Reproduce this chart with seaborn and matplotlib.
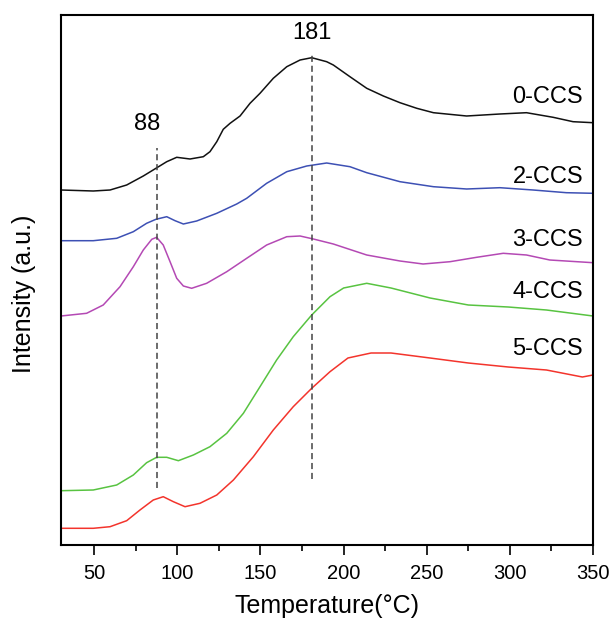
import numpy as np
import pandas as pd
import seaborn as sns
import matplotlib
matplotlib.use("Agg")
import matplotlib.pyplot as plt
from matplotlib.ticker import MultipleLocator

# ---- data (arbitrary intensity units) ----
t_0ccs = [30, 49.4, 59.5, 69.5, 79.5, 87.1, 93.6, 99.6, 107.6, 115.6, 119.6, 123.7, 127.6,
          131.7, 137.7, 143.7, 149.7, 157.7, 165.8, 173.8, 180.8, 189.8, 193.8, 203.8, 213.9,
          223.9, 233.9, 244, 254, 274, 294, 310, 326, 338, 350]
i_0ccs = [355, 354, 355, 360, 369, 376.7, 383.3, 387.7, 386, 388.3, 393.3, 403.3, 415.7,
          421.7, 429, 441.7, 451.7, 466.7, 478.3, 485, 487.3, 483.3, 480, 468.3, 456.7,
          449, 442.3, 436.7, 432.3, 429, 431, 432.3, 427.7, 423.3, 422.3]

t_2ccs = [30, 49.4, 63.5, 73.5, 81.5, 87.1, 93.6, 98.6, 103.6, 111.6, 123.7, 135.7, 141.7,
          153.7, 165.8, 177.8, 189.8, 203.8, 213.9, 233.9, 254, 274, 294, 314, 334, 350]
i_2ccs = [304.3, 304.3, 306.7, 313.3, 321.7, 325.7, 328.3, 324.3, 321, 324, 331.7, 341, 346.7,
          361.7, 373.3, 379, 382, 378.3, 372.3, 363.3, 358.3, 356, 357.3, 355, 352.3, 351.7]

t_3ccs = [30, 45.4, 55.4, 65.5, 73.5, 79.5, 84.6, 87.5, 91.5, 95.6, 99.6, 103.6, 108.6, 117.6,
          129.7, 141.7, 153.7, 165.8, 173.8, 181.8, 193.8, 213.9, 233.9, 247.8, 264, 280, 296,
          310, 324, 350]
i_3ccs = [229, 231.7, 240, 258.3, 278.3, 295, 305.7, 307.7, 300, 283.3, 266.7, 259, 256.7, 261.7,
          273.3, 286.7, 300, 308.3, 309, 306, 301, 290, 284, 281, 283.3, 287.7, 291.7,
          290, 285, 282.3]

t_4ccs = [30, 49.4, 63.5, 73.5, 81.5, 87.5, 93.6, 100.6, 109.6, 119.6, 129.7, 139.7, 149.7,
          159.7, 169.7, 180.8, 191.8, 200, 213.9, 228.5, 252, 275, 299, 322, 350]
i_4ccs = [54.3, 55, 60, 70, 82.3, 87.7, 87.7, 84.3, 90, 98.3, 111.7, 131.7, 158.3,
          185, 208.3, 230, 248.3, 257, 261.7, 257, 247, 240, 238, 235, 229]

t_5ccs = [30, 49.4, 59.5, 69.5, 77.5, 85.5, 91.5, 97.6, 104.6, 113.6, 123.7, 133.7, 145.7,
          157.7, 169.7, 180.8, 191.8, 202.6, 216.5, 228.5, 252, 275, 299, 322, 343.6, 350]
i_5ccs = [16.7, 16.7, 18.3, 24.3, 35, 45, 48.3, 43.3, 38.3, 41.7, 50, 65, 88.3,
          115, 138.3, 156.7, 173.3, 187, 192, 192, 187, 182, 178, 175, 168, 170]

series_names = ["0-CCS", "2-CCS", "3-CCS", "4-CCS", "5-CCS"]
series_t = [t_0ccs, t_2ccs, t_3ccs, t_4ccs, t_5ccs]
series_i = [i_0ccs, i_2ccs, i_3ccs, i_4ccs, i_5ccs]
label_y = [448, 368, 305.5, 253, 196]

peak_temps = [88, 181]
x_ticks = [50, 100, 150, 200, 250, 300, 350]

# ---- styling ----
sns.set_theme(style="white")
plt.rcParams["font.family"] = ["Liberation Sans", "DejaVu Sans"]
plt.rcParams["text.color"] = "black"
plt.rcParams["axes.labelcolor"] = "black"
plt.rcParams["xtick.color"] = "black"
plt.rcParams["ytick.color"] = "black"

colors = {"0-CCS": "#111111", "2-CCS": "#3d50b4", "3-CCS": "#b449b4",
          "4-CCS": "#58c341", "5-CCS": "#f3342c"}

frames = []
for name, t, i in zip(series_names, series_t, series_i):
    frames.append(pd.DataFrame({"T": t, "I": i, "sample": name}))
df = pd.concat(frames, ignore_index=True)

fig = plt.figure(figsize=(6.11, 6.2), dpi=100)
ax = fig.add_axes([61 / 611, 75 / 620, 532 / 611, 530 / 620])

sns.lineplot(data=df, x="T", y="I", hue="sample", palette=colors, sort=False,
             estimator=None, linewidth=1.1, legend=False, ax=ax)

# dashed peak markers
ax.vlines(peak_temps[0], 57, 397, colors="#444444", linestyles=(0, (4, 2.5)), linewidth=1.1)
ax.vlines(peak_temps[1], 66, 493, colors="#444444", linestyles=(0, (4, 2.5)), linewidth=1.1)
ax.text(81.7, 420.5, str(peak_temps[0]), ha="center", va="center", fontsize=17)
ax.text(181, 512, str(peak_temps[1]), ha="center", va="center", fontsize=17)

for name, ly in zip(series_names, label_y):
    ax.text(344, ly, name, ha="right", va="center", fontsize=17)

ax.set_xlim(30, 350)
ax.set_ylim(0, 530)
ax.set_xticks(x_ticks)
ax.xaxis.set_minor_locator(MultipleLocator(25))
ax.set_yticks([])
ax.tick_params(axis="x", which="major", direction="out", length=7, width=1.2,
               labelsize=14.5, bottom=True, pad=7)
ax.tick_params(axis="x", which="minor", direction="out", length=4, width=1.2, bottom=True)
for s in ax.spines.values():
    s.set_visible(True)
    s.set_color("black")
    s.set_linewidth(1.5)

ax.set_xlabel("Temperature(\u00b0C)", fontsize=18, labelpad=7.5)
ax.set_ylabel("Intensity (a.u.)", fontsize=18)
ax.yaxis.set_label_coords(-0.047, 0.4736)

fig.savefig("out.png", dpi=100)
